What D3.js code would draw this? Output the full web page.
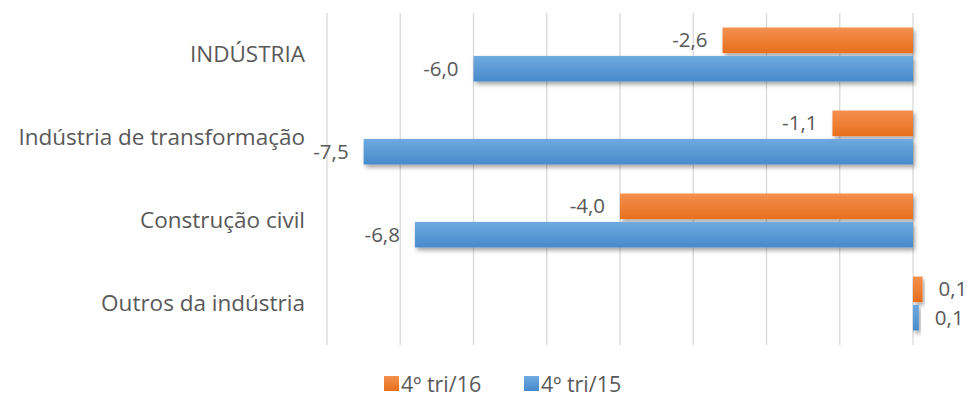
<!DOCTYPE html>
<meta charset="utf-8">
<head>
    <title>Indústria - 4º tri</title>
    <script src="https://cdn.jsdelivr.net/npm/d3@7"></script>
    <style>
        body { margin: 0; background: #fff; }
        text { font-family: "Open Sans", sans-serif; fill: #595959; }
    </style>
</head>
<body>
<script>
    // data
    const categories = ["INDÚSTRIA", "Indústria de transformação", "Construção civil", "Outros da indústria"]
    const seriesNames = ["4º tri/16", "4º tri/15"]
    const tri16 = [-2.6, -1.1, -4.0, 0.13]
    const tri15 = [-6.0, -7.5, -6.8, 0.08]
    const gridTicks = [-8, -7, -6, -5, -4, -3, -2, -1, 0]

    const w = 976, h = 409

    const svg = d3.select("body").append("svg")
        .attr("width", w)
        .attr("height", h)

    const fmt = d3.formatLocale({decimal: ",", thousands: ".", grouping: [3], currency: ["R$", ""], minus: "-"}).format(".1f")

    // defs: gradients + shadow
    const defs = svg.append("defs")
    const grads = {"4º tri/16": ["#f4904f", "#e76f1c"], "4º tri/15": ["#6faae0", "#478acb"]}
    const gradId = {"4º tri/16": "gOrange", "4º tri/15": "gBlue"}
    seriesNames.forEach(s => {
        const g = defs.append("linearGradient").attr("id", gradId[s])
            .attr("x1", "0%").attr("x2", "0%").attr("y1", "0%").attr("y2", "100%")
        g.append("stop").attr("offset", "0%").attr("stop-color", grads[s][0])
        g.append("stop").attr("offset", "100%").attr("stop-color", grads[s][1])
    })
    const f = defs.append("filter").attr("id", "shadow")
        .attr("x", "-10%").attr("y", "-20%").attr("width", "130%").attr("height", "160%")
    f.append("feDropShadow").attr("dx", 2).attr("dy", 3).attr("stdDeviation", 2)
        .attr("flood-color", "#000").attr("flood-opacity", 0.35)

    // scales
    const x = d3.scaleLinear().domain([-8, 0]).range([327, 913])
    const y0 = d3.scaleBand().domain(categories).range([13, 345]).paddingInner(0.35).paddingOuter(0.175)
    const y1 = d3.scaleBand().domain(seriesNames).range([0, y0.bandwidth()]).paddingInner(0.1)

    // gridlines
    svg.append("g").selectAll("line")
        .data(gridTicks)
        .enter().append("line")
        .attr("x1", d => x(d)).attr("x2", d => x(d))
        .attr("y1", 13).attr("y2", 345)
        .attr("stroke", "#d9d9d9").attr("stroke-width", 1.3)

    // category labels
    svg.append("g").selectAll("text")
        .data(categories)
        .enter().append("text")
        .attr("x", 305)
        .attr("y", d => y0(d) + y0.bandwidth() / 2)
        .attr("dy", "0.35em")
        .attr("text-anchor", "end")
        .attr("font-size", 22.5)
        .text(d => d)

    const rows = []
    categories.forEach((c, i) => {
        rows.push({cat: c, s: "4º tri/16", v: tri16[i]})
        rows.push({cat: c, s: "4º tri/15", v: tri15[i]})
    })

    // bars
    svg.append("g").selectAll("rect")
        .data(rows)
        .enter().append("rect")
        .attr("x", d => Math.min(x(d.v), x(0)))
        .attr("y", d => y0(d.cat) + y1(d.s))
        .attr("width", d => Math.abs(x(d.v) - x(0)))
        .attr("height", y1.bandwidth())
        .attr("fill", d => "url(#" + gradId[d.s] + ")")
        .attr("filter", "url(#shadow)")

    // value labels
    svg.append("g").selectAll("text")
        .data(rows)
        .enter().append("text")
        .attr("x", d => d.v < 0 ? x(d.v) - 15 : x(d.v) + 16)
        .attr("y", d => y0(d.cat) + y1(d.s) + y1.bandwidth() / 2)
        .attr("dy", "0.35em")
        .attr("text-anchor", d => d.v < 0 ? "end" : "start")
        .attr("font-size", 20.5)
        .text(d => fmt(d.v))

    // legend
    const legend = svg.append("g")
    const legX = [384, 524]
    seriesNames.forEach((s, i) => {
        legend.append("rect")
            .attr("x", legX[i]).attr("y", 376)
            .attr("width", 15).attr("height", 15)
            .attr("fill", "url(#" + gradId[s] + ")")
        legend.append("text")
            .attr("x", legX[i] + 17).attr("y", 384)
            .attr("dy", "0.35em")
            .attr("font-size", 21.5)
            .text(s)
    })

    // source note, cut at the bottom edge as in the original
    svg.append("text")
        .attr("x", 862).attr("y", 421)
        .attr("font-size", 17)
        .text("Fonte: Caged")
</script>
</body>
</html>
